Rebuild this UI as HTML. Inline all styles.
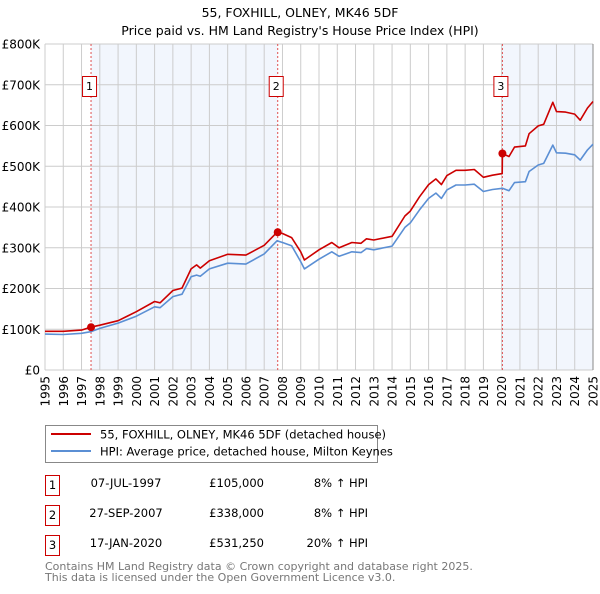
<!DOCTYPE html>
<html><head><meta charset="utf-8">
<style>
body{margin:0;background:#fff;font-family:"DejaVu Sans","Liberation Sans",sans-serif;}
svg text{font-family:"DejaVu Sans","Liberation Sans",sans-serif;}
</style></head>
<body>
<svg id="chart" width="600" height="590" xmlns="http://www.w3.org/2000/svg">
<text x="300" y="17" text-anchor="middle" font-size="12.5">55, FOXHILL, OLNEY, MK46 5DF</text>
<text x="300" y="35" text-anchor="middle" font-size="12.5">Price paid vs. HM Land Registry's House Price Index (HPI)</text>
<g id="plot"></g>
<g>
<rect x="45.5" y="425.5" width="332" height="37" fill="#fff" stroke="#888"/>
<line x1="51" y1="434" x2="91" y2="434" stroke="#cc0000" stroke-width="2"/>
<text x="100" y="438.5" font-size="11.5">55, FOXHILL, OLNEY, MK46 5DF (detached house)</text>
<line x1="51" y1="451" x2="91" y2="451" stroke="#5b8fd4" stroke-width="2"/>
<text x="100" y="455.5" font-size="11.5">HPI: Average price, detached house, Milton Keynes</text>
</g>
<g font-size="11.5">
<rect x="45.5" y="475.5" width="14" height="20" fill="#fff" stroke="#cc0000"/><text x="52.5" y="489" text-anchor="middle">1</text>
<text x="126" y="487" text-anchor="middle">07-JUL-1997</text><text x="264" y="487" text-anchor="end">£105,000</text><text x="368" y="487" text-anchor="end">8% ↑ HPI</text>
<rect x="45.5" y="505.5" width="14" height="20" fill="#fff" stroke="#cc0000"/><text x="52.5" y="519" text-anchor="middle">2</text>
<text x="126" y="517" text-anchor="middle">27-SEP-2007</text><text x="264" y="517" text-anchor="end">£338,000</text><text x="368" y="517" text-anchor="end">8% ↑ HPI</text>
<rect x="45.5" y="535.5" width="14" height="20" fill="#fff" stroke="#cc0000"/><text x="52.5" y="549" text-anchor="middle">3</text>
<text x="126" y="547" text-anchor="middle">17-JAN-2020</text><text x="264" y="547" text-anchor="end">£531,250</text><text x="368" y="547" text-anchor="end">20% ↑ HPI</text>
</g>
<text x="45" y="570" font-size="11" fill="#777">Contains HM Land Registry data © Crown copyright and database right 2025.</text>
<text x="45" y="581" font-size="11" fill="#777">This data is licensed under the Open Government Licence v3.0.</text>
</svg>
<script>
const hpiYears=[1995,1996,1997,1997.5,1998,1999,2000,2001,2001.3,2002,2002.5,2003,2003.3,2003.5,2004,2005,2006,2007,2007.7,2008,2008.5,2009,2009.2,2010,2010.7,2011.1,2011.8,2012.3,2012.6,2013,2014,2014.7,2015,2015.5,2016,2016.4,2016.7,2017,2017.5,2018,2018.5,2019,2019.5,2020.04,2020.4,2020.7,2021.3,2021.5,2022,2022.3,2022.8,2023,2023.5,2024,2024.3,2024.7,2025];
const hpiValues=[88,87,90,94,102,115,132,155,153,180,186,229,233,230,248,262,260,285,317,313,305,266,248,272,290,279,290,288,298,295,304,350,361,393,421,434,421,442,454,454,456,438,443,446,440,460,462,487,503,507,552,533,532,528,515,540,554];
const priceYears=[1995,1996,1997,1997.5,1998,1999,2000,2001,2001.3,2002,2002.5,2003,2003.3,2003.5,2004,2005,2006,2007,2007.7,2008,2008.5,2009,2009.2,2010,2010.7,2011.1,2011.8,2012.3,2012.6,2013,2014,2014.7,2015,2015.5,2016,2016.4,2016.7,2017,2017.5,2018,2018.5,2019,2019.5,2020.03,2020.04,2020.4,2020.7,2021.3,2021.5,2022,2022.3,2022.8,2023,2023.5,2024,2024.3,2024.7,2025];
const priceValues=[95,95,98,105,110,121,143,168,165,195,201,248,258,250,268,284,282,306,338,335,325,290,270,295,313,300,313,311,322,319,328,378,390,425,455,469,455,477,490,490,492,473,478,482,531,524,547,550,580,599,603,657,634,633,628,613,643,659];
const saleYears=[1997.52,2007.74,2020.04];
const saleValues=[105,338,531.25];
const saleLabels=["1","2","3"];
const yTicks=[0,100,200,300,400,500,600,700,800];
const yTickLabels=["£0","£100K","£200K","£300K","£400K","£500K","£600K","£700K","£800K"];
const xTicks=[1995,1996,1997,1998,1999,2000,2001,2002,2003,2004,2005,2006,2007,2008,2009,2010,2011,2012,2013,2014,2015,2016,2017,2018,2019,2020,2021,2022,2023,2024,2025];

const X0=45,X1=593,Y0=370,Y1=44;
const xs=y=>X0+(y-1995)/30*(X1-X0);
const ys=v=>Y0-v/800*(Y0-Y1);
const NS="http://www.w3.org/2000/svg";
const g=document.getElementById('plot');
function mk(t,a){const e=document.createElementNS(NS,t);for(const k in a)e.setAttribute(k,a[k]);g.appendChild(e);return e;}

let e=mk('rect',{x:xs(saleYears[0]),y:Y1,width:xs(saleYears[1])-xs(saleYears[0]),height:Y0-Y1,fill:'#f2f6fd'});


e=mk('rect',{x:xs(saleYears[2]),y:Y1,width:X1-xs(saleYears[2]),height:Y0-Y1,fill:'#f2f6fd'});



yTicks.forEach((v,i)=>{
 let l=mk('line',{x1:X0,x2:X1,y1:ys(v),y2:ys(v),stroke:'#cccccc','stroke-width':1});
 
 
 let t=mk('text',{x:40,y:ys(v)+4.5,'text-anchor':'end','font-size':'12'});
 t.textContent=yTickLabels[i];
 
 
});
xTicks.forEach(y=>{
 let l=mk('line',{x1:xs(y),x2:xs(y),y1:Y1,y2:Y0,stroke:'#cccccc','stroke-width':1});
 
 
 let t=mk('text',{x:0,y:0,'text-anchor':'end','font-size':'12',transform:`translate(${xs(y)+4.5},376) rotate(-90)`});
 t.textContent=String(y);
 
 
});
e=mk('line',{x1:X1,x2:X1,y1:Y1,y2:Y0,stroke:'#888','stroke-width':1});



saleYears.forEach((y,i)=>{
 let l=mk('line',{x1:xs(y),x2:xs(y),y1:Y1,y2:Y0,stroke:'#e05050','stroke-width':1,'stroke-dasharray':'2,2'});
 
 
});

function path(xa,va,col,name){
 const d=xa.map((y,i)=>(i?'L':'M')+xs(y).toFixed(1)+','+ys(va[i]).toFixed(1)).join('');
 const p=mk('path',{d:d,fill:'none',stroke:col,'stroke-width':1.6,'stroke-linejoin':'round'});
 
 
}
path(hpiYears,hpiValues,'#5b8fd4','hpi-line');
path(priceYears,priceValues,'#cc0000','price-line');

saleYears.forEach((y,i)=>{
 let c=mk('circle',{cx:xs(y),cy:ys(saleValues[i]),r:4,fill:'#cc0000'});
 
 
 let b=mk('rect',{x:xs(y)-8.5,y:76.5,width:14,height:20,fill:'#fff',stroke:'#cc0000'});
 
 
 let t=mk('text',{x:xs(y)-1.5,y:90,'text-anchor':'middle','font-size':'11'});
 t.textContent=saleLabels[i];
 
 
});
</script>
</body></html>
